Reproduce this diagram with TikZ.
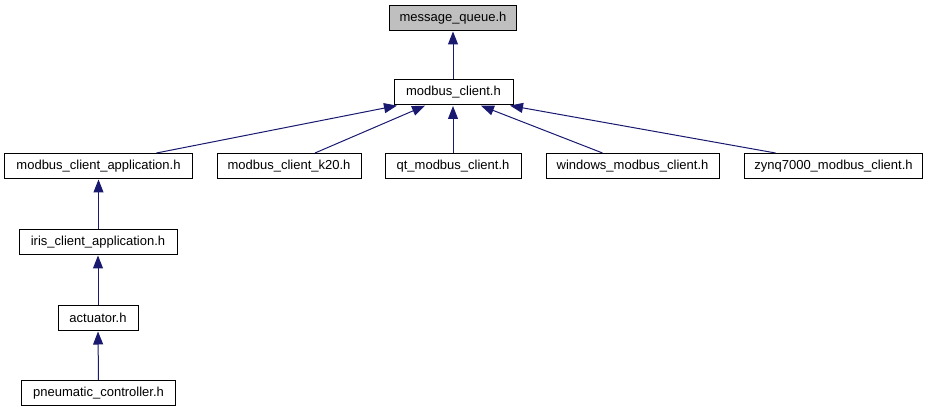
\documentclass[tikz,border=0pt]{standalone}
\usepackage{fontspec}
\setmainfont{Liberation Sans}
\usetikzlibrary{arrows.meta,calc}
\definecolor{edgeblue}{RGB}{25,25,112}
\definecolor{boxgray}{RGB}{191,191,191}
\begin{document}
\begin{tikzpicture}[x=1pt,y=-1pt,
  box/.style={draw=black, line width=1pt, fill=white, inner sep=0pt,
    minimum height=25pt, anchor=center, text=black,
    font=\fontsize{13}{15}\selectfont},
  edge/.style={draw=edgeblue, line width=1pt,
    -{Triangle[length=13pt,width=10pt]}, shorten >=0.5pt}]
\useasboundingbox (0,0) rectangle (929,411);
\node[box, fill=boxgray, minimum width=127pt] (mq) at (453,18) {message\_queue.h};
\node[box, minimum width=119pt] (mc) at (453.5,92.5) {modbus\_client.h};
\node[box, minimum width=188pt] (app) at (98.5,166) {modbus\_client\_application.h};
\node[box, minimum width=144pt] (k20) at (289,166) {modbus\_client\_k20.h};
\node[box, minimum width=136pt] (qt) at (453,166) {qt\_modbus\_client.h};
\node[box, minimum width=173pt] (win) at (632.5,166) {windows\_modbus\_client.h};
\node[box, minimum width=178pt] (zynq) at (833.5,166) {zynq7000\_modbus\_client.h};
\node[box, minimum width=158pt] (iris) at (98,242) {iris\_client\_application.h};
\node[box, minimum width=80pt] (act) at (98,318) {actuator.h};
\node[box, minimum width=154pt] (pn) at (98.5,393) {pneumatic\_controller.h};
\draw[edge] (mc.north -| mq.south) -- (mq.south);
\draw[edge] ($(app.north)+(58,0)$) -- ($(mc.south)+(-56,0)$);
\draw[edge] ($(k20.north)+(26,0)$) -- ($(mc.south)+(-28,0)$);
\draw[edge] (qt.north) -- (qt.north |- mc.south);
\draw[edge] ($(win.north)+(-30,0)$) -- ($(mc.south)+(27,0)$);
\draw[edge] ($(zynq.north)+(-58,0)$) -- ($(mc.south)+(56,0)$);
\draw[edge] (iris.north -| app.south) -- (app.south);
\draw[edge] (act.north) -- (iris.south);
\draw[edge] (pn.north) -- (act.south);
\end{tikzpicture}
\end{document}
